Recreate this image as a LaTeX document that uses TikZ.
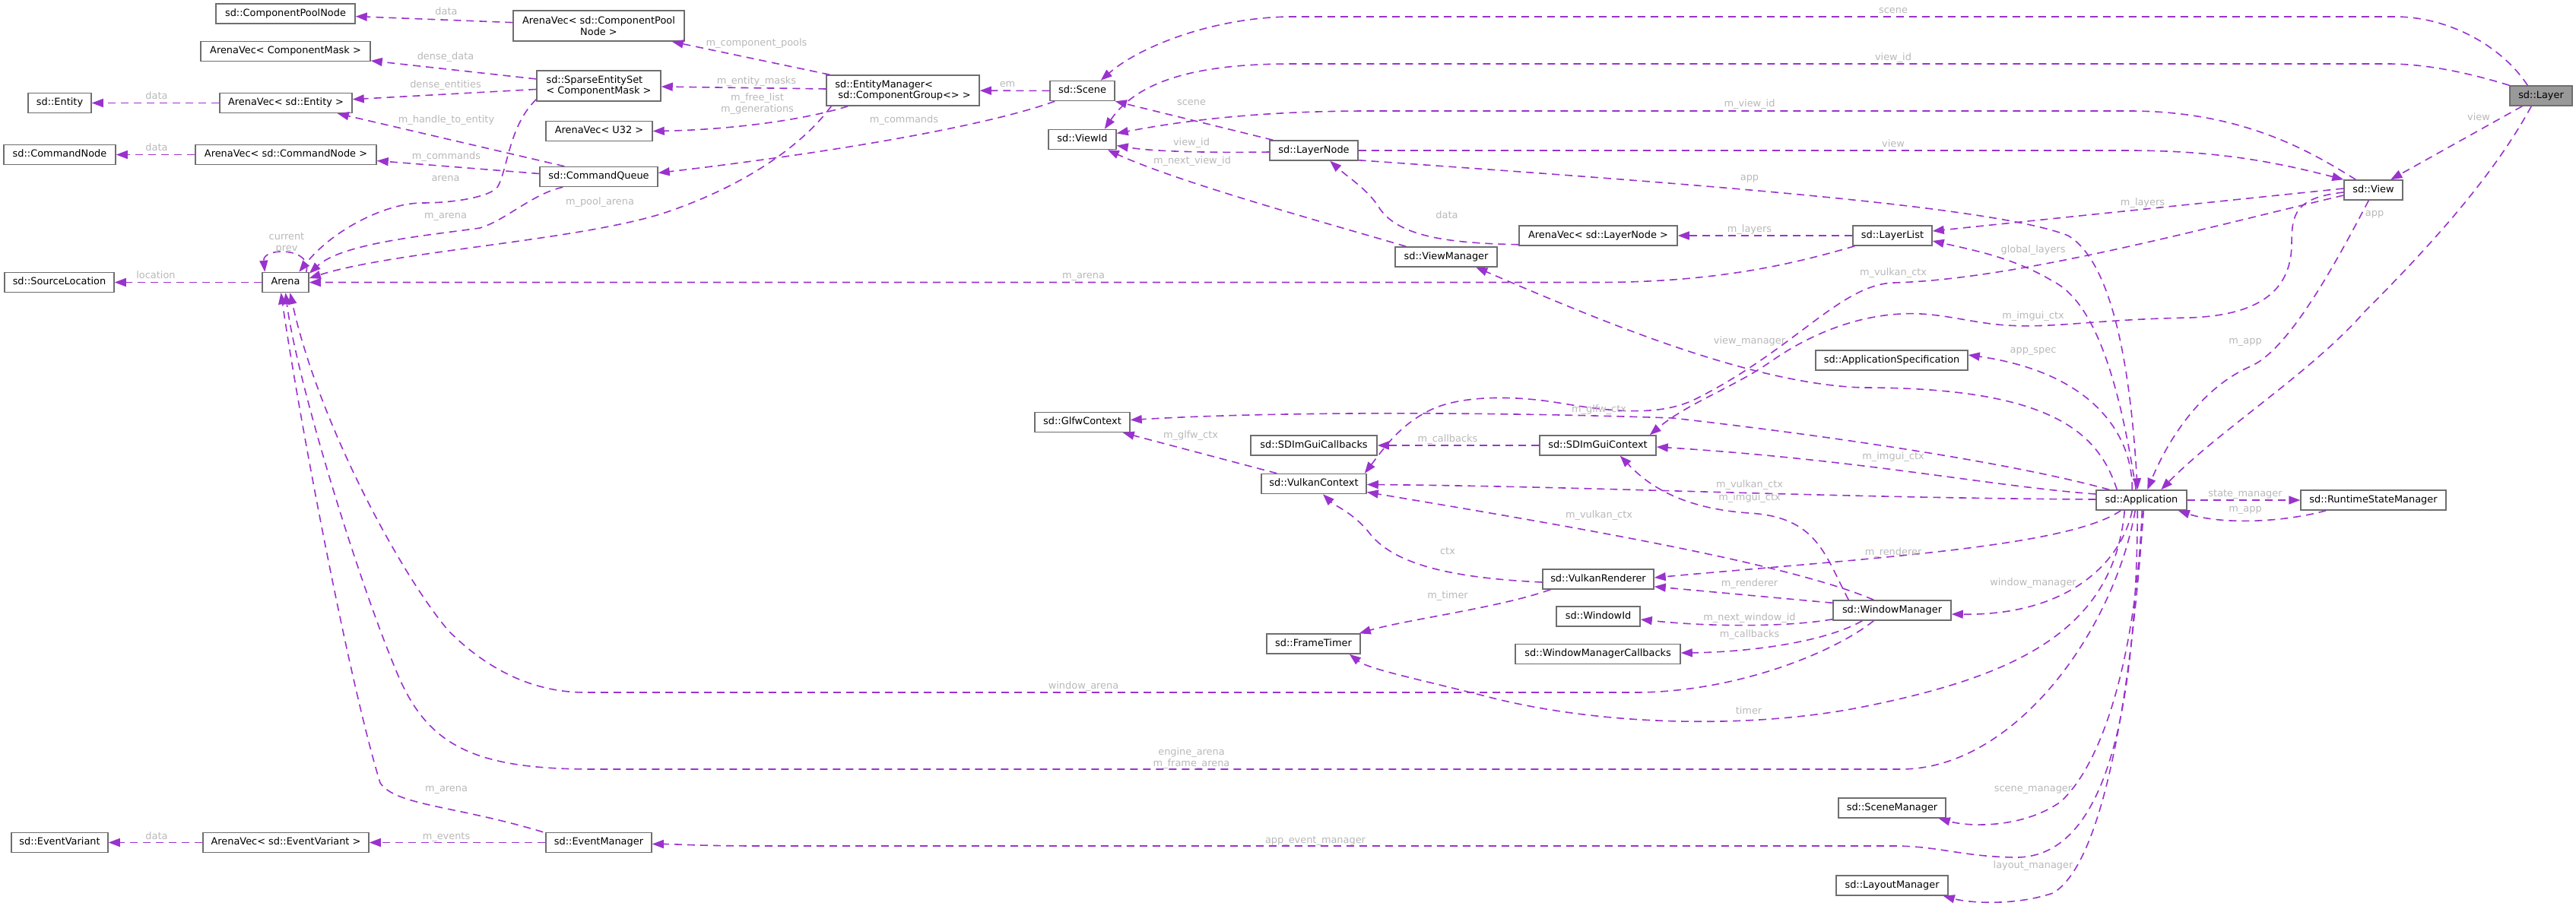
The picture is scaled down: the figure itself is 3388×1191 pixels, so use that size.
\documentclass[tikz,border=0pt]{standalone}
\usepackage{fontspec}
\setmainfont{DejaVu Sans}
\usetikzlibrary{arrows.meta}
\definecolor{edgecol}{HTML}{9A32CD}
\definecolor{lblcol}{HTML}{B8B8B8}
\definecolor{bordcol}{HTML}{6E6E6E}
\definecolor{layerfill}{HTML}{999999}
\newcommand{\dxfont}{\fontsize{12.9pt}{14.8pt}\selectfont}
\tikzset{
 cls/.style={draw=bordcol, line width=1.5pt, fill=white, inner sep=0pt, minimum height=26pt, text height=9.5pt, text depth=2.7pt, font=\dxfont},
 clstwo/.style={draw=bordcol, line width=1.5pt, fill=white, inner sep=0pt, minimum height=40pt, font=\dxfont},
 conn/.style={draw=edgecol, line width=1.6pt, dash pattern=on 10pt off 7pt, -{Triangle[length=15pt,width=11pt]}},
 lbl/.style={font=\dxfont, text=lblcol, inner sep=0pt, text height=9.5pt, text depth=2.7pt},
 lbltwo/.style={font=\dxfont, text=lblcol, inner sep=0pt, align=center},
}
\begin{document}
\begin{tikzpicture}[x=1pt,y=-1pt]
\useasboundingbox (0,0) rectangle (3388,1191);
% ---------------- nodes
\node[cls, minimum width=183pt] (cpn) at (375.5,18) {sd::ComponentPoolNode};
\node[cls, minimum width=223pt] (avcm) at (375.5,67.5) {ArenaVec< ComponentMask >};
\node[cls, minimum width=83pt] (ent) at (78.5,135.5) {sd::Entity};
\node[cls, minimum width=174pt] (ave) at (376,135.5) {ArenaVec< sd::Entity >};
\node[cls, minimum width=147pt] (cmdn) at (78.5,203.5) {sd::CommandNode};
\node[cls, minimum width=238pt] (avcn) at (376,203.5) {ArenaVec< sd::CommandNode >};
\node[cls, minimum width=144pt] (srcl) at (78,371.5) {sd::SourceLocation};
\node[cls, minimum width=61pt] (arena) at (375.5,371.5) {Arena};
\node[clstwo, minimum width=225pt, align=center] (avcpn) at (787.5,34) {ArenaVec< sd::ComponentPool\\Node >};
\node[clstwo, minimum width=163pt, align=left] (ses) at (787.5,113) {sd::SparseEntitySet\\< ComponentMask >};
\node[cls, minimum width=140pt] (avu) at (788,172.5) {ArenaVec< U32 >};
\node[cls, minimum width=155pt] (cq) at (787.5,232.5) {sd::CommandQueue};
\node[clstwo, minimum width=201pt, align=left] (em) at (1187.5,119) {sd::EntityManager<\\\hspace*{4pt}sd::ComponentGroup<> >};
\node[cls, minimum width=85pt] (scene) at (1423.5,119.5) {sd::Scene};
\node[cls, minimum width=89pt] (vid) at (1423.5,183.5) {sd::ViewId};
\node[cls, minimum width=116pt] (ln) at (1728,198) {sd::LayerNode};
\node[cls, minimum width=208pt] (avln) at (2102,310) {ArenaVec< sd::LayerNode >};
\node[cls, minimum width=134pt] (vm) at (1902,338) {sd::ViewManager};
\node[cls, minimum width=82pt, fill=layerfill] (layer) at (3342,126) {sd::Layer};
\node[cls, minimum width=77pt] (view) at (3121.5,250) {sd::View};
\node[cls, minimum width=104pt] (ll) at (2489,310) {sd::LayerList};
\node[cls, minimum width=125pt] (glfw) at (1423.5,555.5) {sd::GlfwContext};
\node[cls, minimum width=166pt] (imcb) at (1728,586) {sd::SDImGuiCallbacks};
\node[cls, minimum width=138pt] (vkc) at (1728,636.5) {sd::VulkanContext};
\node[cls, minimum width=123pt] (ft) at (1727.5,847) {sd::FrameTimer};
\node[cls, minimum width=200pt] (aspec) at (2488,474) {sd::ApplicationSpecification};
\node[cls, minimum width=153pt] (imctx) at (2101.5,586) {sd::SDImGuiContext};
\node[cls, minimum width=119pt] (app) at (2816.5,658) {sd::Application};
\node[cls, minimum width=191pt] (rsm) at (3121.5,658) {sd::RuntimeStateManager};
\node[cls, minimum width=146pt] (vkr) at (2102,762) {sd::VulkanRenderer};
\node[cls, minimum width=155pt] (wm) at (2488.5,803) {sd::WindowManager};
\node[cls, minimum width=110pt] (wid) at (2102,811) {sd::WindowId};
\node[cls, minimum width=217pt] (wmcb) at (2101.5,860.5) {sd::WindowManagerCallbacks};
\node[cls, minimum width=127pt] (ev) at (78.5,1108.5) {sd::EventVariant};
\node[cls, minimum width=218pt] (avev) at (376,1108.5) {ArenaVec< sd::EventVariant >};
\node[cls, minimum width=139pt] (evm) at (787.5,1108.5) {sd::EventManager};
\node[cls, minimum width=141pt] (scm) at (2488.5,1063) {sd::SceneManager};
\node[cls, minimum width=147pt] (lm) at (2488.5,1165) {sd::LayoutManager};
% ---------------- connectors
\draw[conn] (avcpn) -- (cpn);
\draw[conn] (ses) -- (avcm);
\draw[conn] (ses) -- (ave);
\draw[conn] (ave) -- (ent);
\draw[conn] ([shift={(33,0)}]cq.north west) -- ([shift={(-20,0)}]ave.south east);
\draw[conn] (avcn) -- (cmdn);
\draw[conn] ([shift={(0,-4)}]cq.west) -- ([shift={(0,8)}]avcn.east);
\draw[conn] ([shift={(0,-3)}]ses.south west) .. controls (670,165) and (668,220) .. (655,245) .. controls (648,258) and (600,267) .. (555,267) .. controls (510,267) and (440,300) .. ([shift={(49,0)}]arena.north west);
\draw[conn] ([shift={(31,0)}]cq.south west) .. controls (700,255) and (665,290) .. (631,300) .. controls (560,310) and (450,320) .. ([shift={(0,2)}]arena.north east);
\draw[conn] ([shift={(7,0)}]em.south west) .. controls (1060,185) and (990,240) .. (880,278) .. controls (770,316) and (520,330) .. ([shift={(0,-5.5)}]arena.east);
\draw[conn] ([shift={(-4,0)}]arena.north east) .. controls (412,325) and (345,325) .. ([shift={(4,0)}]arena.north west);
\draw[conn] (arena) -- (srcl);
\draw[conn] ([shift={(3,0)}]ll.south west) .. controls (2350,350) and (2250,371.5) .. (2100,371.5) -- (arena.east);
\draw[conn] ([shift={(5,0)}]em.north west) -- ([shift={(-17,0)}]avcpn.south east);
\draw[conn] ([shift={(0,-2)}]em.west) -- ([shift={(0,1)}]ses.east);
\draw[conn] ([shift={(29,0)}]em.south west) .. controls (1050,160) and (950,171) .. (avu.east);
\draw[conn] (scene) -- (em);
\draw[conn] ([shift={(7,0)}]scene.south west) .. controls (1300,165) and (1100,200) .. ([shift={(0,-5)}]cq.east);
\draw[conn] ([shift={(24,0)}]layer.north west) .. controls (3290,60) and (3220,22) .. (3150,22) -- (1700,22) .. controls (1600,22) and (1500,60) .. ([shift={(-19,0)}]scene.north east);
\draw[conn] (layer.north west) .. controls (3260,100) and (3200,84) .. (3140,84) -- (1700,84) .. controls (1590,84) and (1500,100) .. ([shift={(-16,0)}]vid.north east);
\draw[conn] ([shift={(5,0)}]ln.north west) -- (scene.south east);
\draw[conn] ([shift={(0,2)}]ln.west) .. controls (1600,201) and (1520,200) .. ([shift={(0,8)}]vid.east);
\draw[conn] ([shift={(15,0)}]vm.north west) .. controls (1750,295) and (1550,240) .. ([shift={(-12,0)}]vid.south east);
\draw[conn] ([shift={(16,0)}]view.north west) .. controls (3040,200) and (2950,146) .. (2800,146) -- (1800,146) .. controls (1650,146) and (1550,160) .. ([shift={(0,-8)}]vid.east);
\draw[conn] (ln.east) -- (2800,198) .. controls (2920,198) and (3000,215) .. (view.north west);
\draw[conn] ([shift={(17,0)}]layer.south west) -- ([shift={(62,0)}]view.north west);
\draw[conn] ([shift={(0,-1)}]ln.south east) .. controls (2200,240) and (2620,270) .. (2720,310) .. controls (2770,340) and (2800,450) .. ([shift={(55,0)}]app.north west);
\draw[conn] ([shift={(0,-2)}]avln.south west) .. controls (1900,320) and (1840,310) .. (1815,275) .. controls (1800,250) and (1775,235) .. ([shift={(80,0)}]ln.south west);
\draw[conn] (ll) -- (avln);
\draw[conn] ([shift={(0,-2)}]view.west) -- ([shift={(0,-6)}]ll.east);
\draw[conn] ([shift={(53,0)}]app.north west) .. controls (2790,520) and (2760,400) .. (2700,370) .. controls (2650,340) and (2600,330) .. ([shift={(0,7)}]ll.east);
\draw[conn] ([shift={(0,7)}]view.west) .. controls (2900,300) and (2650,368) .. (2490,372) .. controls (2420,375) and (2360,460) .. (2230,525) .. controls (2180,550) and (2110,540) .. (2050,530) .. controls (1990,520) and (1920,520) .. (1880,540) .. controls (1840,560) and (1820,590) .. ([shift={(-3,0)}]vkc.north east);
\draw[conn] ([shift={(0,3)}]view.west) .. controls (3020,260) and (3014,280) .. (3014,320) .. controls (3014,390) and (2960,415) .. (2880,418) .. controls (2760,420) and (2700,432) .. (2640,428) .. controls (2590,425) and (2550,410) .. (2500,413) .. controls (2440,416) and (2380,440) .. (2330,475) .. controls (2280,510) and (2220,530) .. ([shift={(-9,0)}]imctx.north east);
\draw[conn] ([shift={(33,0)}]view.south west) .. controls (3070,350) and (3010,460) .. (2960,482) .. controls (2900,508) and (2855,570) .. ([shift={(68,0)}]app.north west);
\draw[conn] ([shift={(29,0)}]layer.south west) .. controls (3280,230) and (3200,320) .. (3110,410) .. controls (3040,490) and (2920,565) .. ([shift={(86,0)}]app.north west);
\draw[conn] (app) -- (rsm);
\draw[conn] ([shift={(34,0)}]rsm.south west) .. controls (3000,688) and (2920,690) .. ([shift={(-12,0)}]app.south east);
\draw[conn] ([shift={(0,-1)}]app.west) .. controls (2400,655) and (2100,640) .. ([shift={(0,1)}]vkc.east);
\draw[conn] ([shift={(54,0)}]wm.north west) .. controls (2350,740) and (2050,690) .. ([shift={(0,11)}]vkc.east);
\draw[conn] ([shift={(0,4)}]vkr.west) .. controls (1900,760) and (1830,740) .. (1800,700) .. controls (1780,675) and (1755,665) .. ([shift={(12,0)}]vkc.south);
\draw[conn] ([shift={(21,0)}]vkc.north west) -- ([shift={(-10,0)}]glfw.south east);
\draw[conn] ([shift={(18,0)}]app.north west) .. controls (2650,610) and (2420,575) .. (2200,550) .. controls (2000,543) and (1700,540) .. ([shift={(0,-3)}]glfw.east);
\draw[conn] (imctx) -- (imcb);
\draw[conn] ([shift={(0,-8)}]app.west) .. controls (2620,640) and (2450,605) .. ([shift={(0,2)}]imctx.east);
\draw[conn] ([shift={(21,0)}]wm.north west) .. controls (2400,730) and (2390,680) .. (2300,675) .. controls (2200,668) and (2160,630) .. ([shift={(-48,0)}]imctx.south east);
\draw[conn] ([shift={(48,0)}]app.north west) .. controls (2805,570) and (2750,490) .. ([shift={(0,-7)}]aspec.east);
\draw[conn] ([shift={(28,0)}]app.north west) .. controls (2760,570) and (2700,510) .. (2450,510) .. controls (2300,505) and (2100,420) .. ([shift={(107,0)}]vm.south west);
\draw[conn] ([shift={(33,0)}]app.south west) .. controls (2720,720) and (2450,735) .. ([shift={(0,-2)}]vkr.east);
\draw[conn] ([shift={(0,4)}]wm.north west) -- ([shift={(0,-4)}]vkr.south east);
\draw[conn] ([shift={(48,0)}]app.south west) .. controls (2790,740) and (2720,810) .. ([shift={(0,5)}]wm.east);
\draw[conn] ([shift={(0,-2)}]wm.south west) .. controls (2350,825) and (2250,825) .. ([shift={(0,4)}]wid.east);
\draw[conn] ([shift={(39,0)}]wm.south west) .. controls (2400,845) and (2300,858) .. ([shift={(0,-1.5)}]wmcb.east);
\draw[conn] ([shift={(11,0)}]vkr.south west) .. controls (1970,800) and (1850,815) .. ([shift={(-2,0)}]ft.north east);
\draw[conn] ([shift={(38,0)}]app.south west) .. controls (2780,830) and (2650,890) .. (2450,930) .. controls (2300,960) and (2100,955) .. (1950,915) .. controls (1850,890) and (1800,880) .. ([shift={(-15,0)}]ft.south east);
\draw[conn] ([shift={(54,0)}]wm.south west) .. controls (2410,860) and (2280,911) .. (2150,911) -- (770,911) .. controls (700,911) and (640,880) .. (590,830) .. controls (530,760) and (420,560) .. ([shift={(6,0)}]arena.south);
\draw[conn] (evm) -- (avev);
\draw[conn] (avev) -- (ev);
\draw[conn] ([shift={(52,0)}]app.south west) .. controls (2780,830) and (2650,1012) .. (2500,1012) -- (780,1012) .. controls (620,1012) and (560,980) .. (520,880) .. controls (470,760) and (390,500) .. (arena.south);
\draw[conn] ([shift={(55,0)}]app.south west) .. controls (2810,900) and (2780,1130) .. (2650,1128) .. controls (2580,1127) and (2550,1113) .. (2490,1113) -- (1000,1113) .. controls (920,1113) and (890,1110.5) .. ([shift={(0,2)}]evm.east);
\draw[conn] ([shift={(61,0)}]app.south west) .. controls (2810,850) and (2770,1000) .. (2710,1055) .. controls (2660,1090) and (2590,1088) .. ([shift={(-10,0)}]scm.south east);
\draw[conn] ([shift={(63,0)}]app.south west) .. controls (2800,950) and (2760,1140) .. (2700,1175) .. controls (2650,1192) and (2590,1188) .. ([shift={(-7,0)}]lm.south east);
\draw[conn] ([shift={(-3,0)}]evm.north west) .. controls (600,1060) and (520,1060) .. (500,1030) .. controls (460,900) and (395,560) .. ([shift={(-6,0)}]arena.south);
% ---------------- labels
\node[lbl] (l01) at (587,16) {data};
\node[lbl] (l02) at (586,75) {dense\_data};
\node[lbl] (l03) at (586,112) {dense\_entities};
\node[lbl] (l04) at (206,127) {data};
\node[lbl] (l05) at (587,158) {m\_handle\_to\_entity};
\node[lbl] (l06) at (206,195) {data};
\node[lbl] (l07) at (587,206) {m\_commands};
\node[lbl] (l08) at (586,235) {arena};
\node[lbl] (l09) at (586,284) {m\_arena};
\node[lbltwo] (l10) at (377,320) {current\\prev};
\node[lbl] (l11) at (205,363) {location};
\node[lbl] (l12) at (995,57) {m\_component\_pools};
\node[lbl] (l13) at (995,107) {m\_entity\_masks};
\node[lbltwo] (l14) at (996,137) {m\_free\_list\\m\_generations};
\node[lbl] (l15) at (1325,111) {em};
\node[lbl] (l16) at (1189,158) {m\_commands};
\node[lbl] (l17) at (789,266) {m\_pool\_arena};
\node[lbl] (l18) at (1425,363) {m\_arena};
\node[lbl] (l19) at (2490,14) {scene};
\node[lbl] (l20) at (2490,76) {view\_id};
\node[lbl] (l21) at (1567,135) {scene};
\node[lbl] (l22) at (2301,137) {m\_view\_id};
\node[lbl] (l23) at (1567,188) {view\_id};
\node[lbl] (l24) at (1568,212) {m\_next\_view\_id};
\node[lbl] (l25) at (2490,190) {view};
\node[lbl] (l26) at (3260,155) {view};
\node[lbl] (l27) at (2301,234) {app};
\node[lbl] (l28) at (1903,284) {data};
\node[lbl] (l29) at (2301,302) {m\_layers};
\node[lbl] (l30) at (2818,267) {m\_layers};
\node[lbl] (l31) at (3123,281) {app};
\node[lbl] (l32) at (2953,449) {m\_app};
\node[lbl] (l33) at (2674,329) {global\_layers};
\node[lbl] (l34) at (2490,359) {m\_vulkan\_ctx};
\node[lbl] (l35) at (2674,416) {m\_imgui\_ctx};
\node[lbl] (l36) at (2301,449) {view\_manager};
\node[lbl] (l37) at (2674,461) {app\_spec};
\node[lbl] (l38) at (2103,539) {m\_glfw\_ctx};
\node[lbl] (l39) at (1566,573) {m\_glfw\_ctx};
\node[lbl] (l40) at (1904,578) {m\_callbacks};
\node[lbl] (l41) at (2490,601) {m\_imgui\_ctx};
\node[lbl] (l42) at (2301,638) {m\_vulkan\_ctx};
\node[lbl] (l43) at (2301,655) {m\_imgui\_ctx};
\node[lbl] (l44) at (2103,678) {m\_vulkan\_ctx};
\node[lbl] (l45) at (2953,650) {state\_manager};
\node[lbl] (l46) at (2953,670) {m\_app};
\node[lbl] (l47) at (1904,726) {ctx};
\node[lbl] (l48) at (2490,727) {m\_renderer};
\node[lbl] (l49) at (2301,768) {m\_renderer};
\node[lbl] (l50) at (2674,767) {window\_manager};
\node[lbl] (l51) at (1904,784) {m\_timer};
\node[lbl] (l52) at (2301,813) {m\_next\_window\_id};
\node[lbl] (l53) at (2301,835) {m\_callbacks};
\node[lbl] (l54) at (1425,903) {window\_arena};
\node[lbl] (l55) at (2300,936) {timer};
\node[lbltwo] (l56) at (1567,998) {engine\_arena\\m\_frame\_arena};
\node[lbl] (l57) at (587,1038) {m\_arena};
\node[lbl] (l58) at (206,1101) {data};
\node[lbl] (l59) at (587,1101) {m\_events};
\node[lbl] (l60) at (1730,1106) {app\_event\_manager};
\node[lbl] (l61) at (2674,1038) {scene\_manager};
\node[lbl] (l62) at (2674,1139) {layout\_manager};
\end{tikzpicture}
\end{document}
